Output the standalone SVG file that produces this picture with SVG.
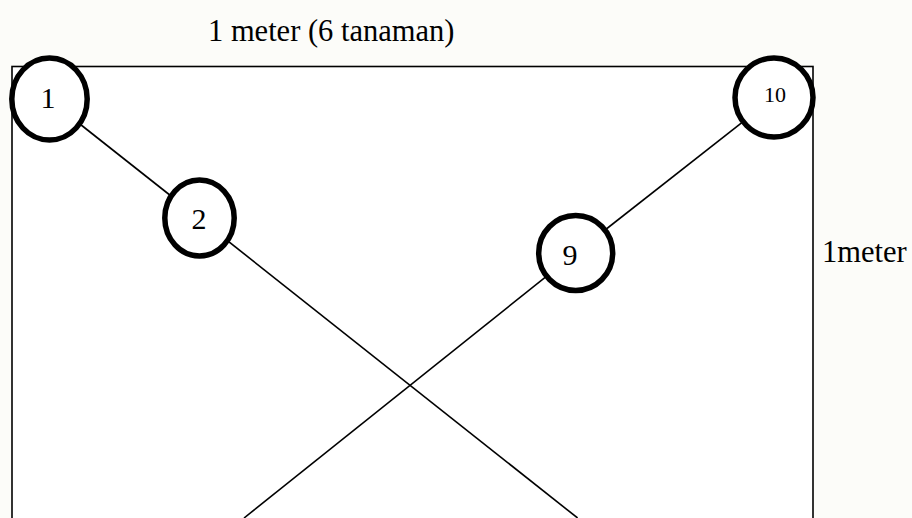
<svg xmlns="http://www.w3.org/2000/svg" width="912" height="518" viewBox="0 0 912 518">
  <style>
    .lbl { font-family: "Liberation Serif", "Times New Roman", serif; fill: #000; }
    .node ellipse { fill: #fff; stroke: #000; stroke-width: 5.5; }
    .conn line { stroke: #000; stroke-width: 1.6; }
  </style>
  <rect x="0" y="0" width="912" height="518" fill="#fcfcf9"/>
  <rect id="plot" x="12" y="66.5" width="801" height="470" fill="#fff" stroke="#000" stroke-width="1.6"/>
  <text class="lbl" x="208" y="41" font-size="30.5">1 meter (6 tanaman)</text>
  <text class="lbl" x="822" y="262" font-size="30.5">1meter</text>
  <g id="connectors" class="conn">
    <line x1="49.5" y1="100" x2="199.5" y2="218.5"/>
    <line x1="199.5" y1="218.5" x2="577.6" y2="518"/>
    <line x1="774" y1="97.5" x2="575.7" y2="253"/>
    <line x1="575.7" y1="253" x2="244" y2="518"/>
  </g>
  <g id="node1" class="node">
    <ellipse cx="49.5" cy="99" rx="37.7" ry="41"/>
    <text class="lbl" x="48" y="108" font-size="30" text-anchor="middle">1</text>
  </g>
  <g id="node2" class="node">
    <ellipse cx="199.5" cy="218" rx="34.7" ry="38"/>
    <text class="lbl" x="199" y="229" font-size="30" text-anchor="middle">2</text>
  </g>
  <g id="node9" class="node">
    <ellipse cx="575.7" cy="253" rx="37" ry="37.5"/>
    <text class="lbl" x="570" y="265" font-size="30" text-anchor="middle">9</text>
  </g>
  <g id="node10" class="node">
    <ellipse cx="774" cy="97.5" rx="39" ry="39.5"/>
    <text class="lbl" x="775" y="101.5" font-size="22" text-anchor="middle">10</text>
  </g>
</svg>
